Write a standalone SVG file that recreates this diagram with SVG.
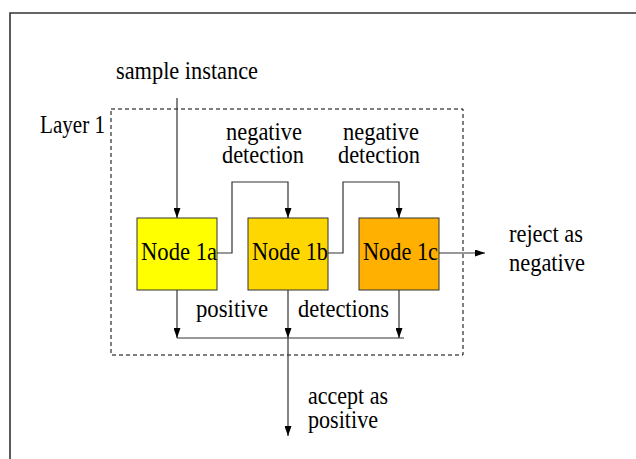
<svg xmlns="http://www.w3.org/2000/svg" width="636" height="459" viewBox="0 0 636 459">
<style>
text{font-family:"Liberation Serif","Times New Roman",serif;font-size:25px;fill:#000}
.ln{fill:none;stroke:#333;stroke-width:1.2}
.node rect{stroke:#333;stroke-width:1}
</style>
<defs>
<marker id="ah" markerWidth="10" markerHeight="7" refX="10" refY="3.5" orient="auto" markerUnits="userSpaceOnUse">
<path d="M0,0 L10,3.5 L0,7 z" fill="#000"/>
</marker>
</defs>
<rect width="636" height="459" fill="#fff"/>
<path d="M10,459 V13 H636" fill="none" stroke="#333" stroke-width="1.6"/>
<g id="layer1">
<rect x="111" y="109" width="352" height="246" fill="none" stroke="#000" stroke-width="1" stroke-dasharray="4,3"/>
<text x="40" y="133" textLength="65" lengthAdjust="spacingAndGlyphs">Layer 1</text>
</g>
<g id="node1a" class="node">
<rect x="137" y="218" width="80" height="72" fill="#ffff00"/>
<text x="141" y="260" textLength="76" lengthAdjust="spacingAndGlyphs">Node 1a</text>
</g>
<g id="node1b" class="node">
<rect x="248" y="218" width="80" height="72" fill="#ffd700"/>
<text x="252" y="260" textLength="76" lengthAdjust="spacingAndGlyphs">Node 1b</text>
</g>
<g id="node1c" class="node">
<rect x="359" y="218" width="80" height="72" fill="#ffb000"/>
<text x="363" y="260" textLength="75" lengthAdjust="spacingAndGlyphs">Node 1c</text>
</g>
<g id="connectors">
<path class="ln" d="M177,98 V218" marker-end="url(#ah)"/>
<path class="ln" d="M217,253 H232 V182 H288 V218" marker-end="url(#ah)"/>
<path class="ln" d="M328,253 H343 V182 H399 V218" marker-end="url(#ah)"/>
<path class="ln" d="M439,253 H485" marker-end="url(#ah)"/>
<path class="ln" d="M177,290 V338" marker-end="url(#ah)"/>
<path class="ln" d="M288,290 V338" marker-end="url(#ah)"/>
<path class="ln" d="M399,290 V338" marker-end="url(#ah)"/>
<path class="ln" d="M177,338 H404"/>
<path class="ln" d="M288,338 V436" marker-end="url(#ah)"/>
</g>
<g id="labels">
<text x="116" y="79" textLength="142" lengthAdjust="spacingAndGlyphs">sample instance</text>
<text x="226" y="140" textLength="76" lengthAdjust="spacingAndGlyphs">negative</text>
<text x="222" y="163" textLength="82" lengthAdjust="spacingAndGlyphs">detection</text>
<text x="343" y="140" textLength="76" lengthAdjust="spacingAndGlyphs">negative</text>
<text x="338" y="163" textLength="82" lengthAdjust="spacingAndGlyphs">detection</text>
<text x="509" y="242" textLength="74" lengthAdjust="spacingAndGlyphs">reject as</text>
<text x="509" y="271" textLength="76" lengthAdjust="spacingAndGlyphs">negative</text>
<text x="196" y="317" textLength="72" lengthAdjust="spacingAndGlyphs">positive</text>
<text x="298" y="317" textLength="91" lengthAdjust="spacingAndGlyphs">detections</text>
<text x="308" y="404" textLength="80" lengthAdjust="spacingAndGlyphs">accept as</text>
<text x="308" y="428" textLength="70" lengthAdjust="spacingAndGlyphs">positive</text>
</g>
</svg>
